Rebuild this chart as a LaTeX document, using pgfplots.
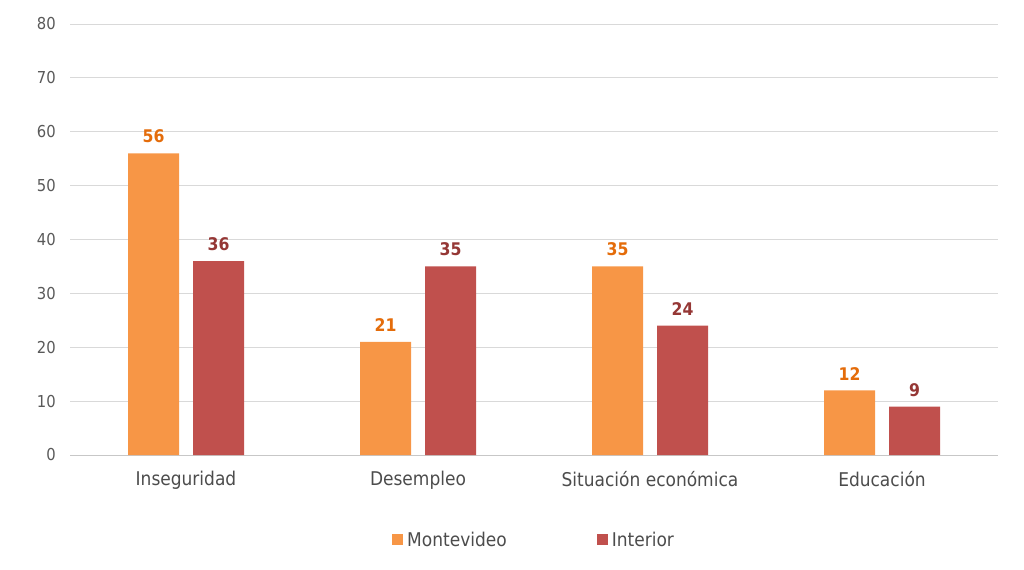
\documentclass[border=0pt]{standalone}
\usepackage{fontspec}
\setmainfont{DejaVu Sans Condensed}
\usepackage{pgfplots}
\pgfplotsset{compat=1.18}
\definecolor{mvd}{HTML}{F79646}
\definecolor{inte}{HTML}{C0504D}
\definecolor{mvdlab}{HTML}{E46C0A}
\definecolor{intlab}{HTML}{953735}
\definecolor{txt}{HTML}{595959}
\definecolor{gridc}{HTML}{D9D9D9}
\begin{document}
\begin{tikzpicture}
\path[use as bounding box] (0,0) rectangle (1024bp,570bp);
\begin{axis}[at={(70bp,115bp)}, anchor=south west, scale only axis,
  width=928bp, height=431bp,
  ybar=14bp, bar width=51bp,
  xmin=-0.5, xmax=3.5, ymin=0, ymax=80, ytick={0,10,...,80},
  xtick={0,1,2,3},
  xticklabels={Inseguridad,Desempleo,Situación económica,Educación},
  axis x line*=bottom, axis y line*=left,
  x axis line style={draw=gridc!80!gray, line width=0.9bp, -},
  y axis line style={draw=none},
  major tick length=0pt,
  ymajorgrids, grid style={draw=gridc, line width=0.8bp},
  /pgf/number format/assume math mode=true,
  yticklabel style={font=\fontsize{16.5}{16.5}\selectfont, text=txt, inner sep=0pt, xshift=-14bp},
  xticklabel style={font=\fontsize{19}{19}\selectfont, text=txt!85!black, inner sep=0pt, yshift=-16bp},
  nodes near coords,
  every node near coord/.append style={font=\bfseries\fontsize{17.5}{17.5}\selectfont, inner sep=0pt, yshift=10bp},
  legend style={at={(0.499,-0.197)}, anchor=center, draw=none, fill=none,
    legend columns=2, font=\fontsize{19}{19}\selectfont, text=txt!85!black,
    /tikz/every even column/.append style={column sep=90bp},
    nodes={inner sep=0pt}},
  every axis plot post/.append style={legend image code/.code={\fill[##1] (0bp,-5.5bp) rectangle (11bp,5.5bp); \path (15bp,0bp);}},
]
\addplot[draw=none, fill=mvd, every node near coord/.append style={text=mvdlab}] coordinates {(0,56) (1,21) (2,35) (3,12)};
\addlegendentry{Montevideo}
\addplot[draw=none, fill=inte, every node near coord/.append style={text=intlab}] coordinates {(0,36) (1,35) (2,24) (3,9)};
\addlegendentry{Interior}
\end{axis}
\end{tikzpicture}
\end{document}
